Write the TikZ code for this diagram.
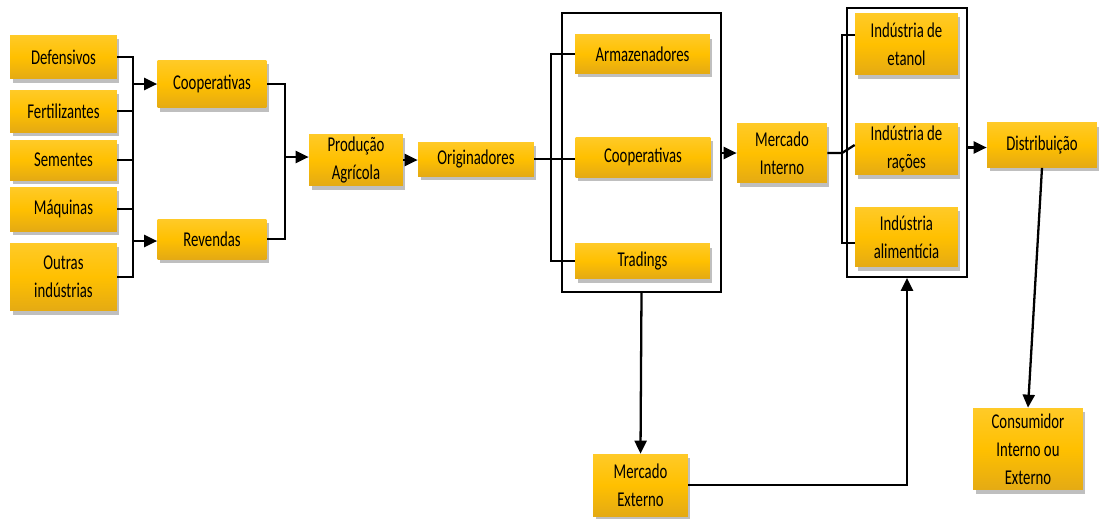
\documentclass[tikz,border=0pt]{standalone}
\usepackage{fontspec}
\setmainfont{Carlito}[FakeStretch=0.7]
\usepackage{tikz}
\usetikzlibrary{arrows.meta, positioning, calc, shadows}
\definecolor{boxtop}{RGB}{255,202,40}
\definecolor{boxmid}{RGB}{255,192,0}
\definecolor{boxbot}{RGB}{228,170,20}

\begin{document}
\begin{tikzpicture}[
    x=0.02cm, y=-0.02cm,
    every node/.style={font=\fontsize{12}{16}\selectfont},
    block/.style={rectangle, top color=boxtop, bottom color=boxbot, middle color=boxmid,
        align=center, inner sep=1pt,
        drop shadow={shadow xshift=0.5mm, shadow yshift=-0.8mm, opacity=0.25, fill=black}},
    frame/.style={rectangle, draw, line width=1pt, inner sep=0pt},
    link/.style={line width=1.3pt},
    arrow/.style={line width=1.3pt, -{Triangle[length=2.6mm, width=2.4mm]}}
]
\useasboundingbox (0,0) rectangle (1100,518);

% insumos
\node[block, minimum width=2.14cm, minimum height=0.88cm] (def) at (63.5,57) {Defensivos};
\node[block, minimum width=2.14cm, minimum height=0.84cm] (fert) at (63.5,111) {Fertilizantes};
\node[block, minimum width=2.14cm, minimum height=0.80cm] (sem) at (63.5,160) {Sementes};
\node[block, minimum width=2.14cm, minimum height=0.88cm] (maq) at (63.5,209) {Máquinas};
\node[block, minimum width=2.14cm, minimum height=1.36cm] (outras) at (63.5,277) {Outras\\indústrias};

\node[block, minimum width=2.18cm, minimum height=0.96cm] (coopA) at (212,84) {Cooperativas};
\node[block, minimum width=2.18cm, minimum height=0.80cm] (rev) at (212,239) {Revendas};

\node[block, minimum width=1.88cm, minimum height=1.04cm] (prod) at (356,160) {Produção\\Agrícola};
\node[block, minimum width=2.32cm, minimum height=0.68cm] (orig) at (476,159) {Originadores};

% originadores
\node[frame, minimum width=3.18cm, minimum height=5.58cm] (grp1) at (641.5,152.5) {};
\node[block, minimum width=2.70cm, minimum height=0.78cm] (arm) at (642.5,54) {Armazenadores};
\node[block, minimum width=2.70cm, minimum height=0.80cm] (coopB) at (643,157) {Cooperativas};
\node[block, minimum width=2.70cm, minimum height=0.70cm] (trad) at (642.5,261) {Tradings};

\node[block, minimum width=1.80cm, minimum height=1.20cm] (mi) at (782,153) {Mercado\\Interno};
\node[block, minimum width=1.90cm, minimum height=1.24cm] (me) at (640.5,485) {Mercado\\Externo};

% industrias
\node[frame, minimum width=2.40cm, minimum height=5.38cm] (grp2) at (907,142.5) {};
\node[block, minimum width=2.06cm, minimum height=1.24cm] (etanol) at (906.5,44) {Indústria de\\etanol};
\node[block, minimum width=2.06cm, minimum height=1.04cm] (racoes) at (906.5,149) {Indústria de\\rações};
\node[block, minimum width=2.06cm, minimum height=1.20cm] (alim) at (906.5,237) {Indústria\\alimentícia};

\node[block, minimum width=2.20cm, minimum height=0.90cm] (dist) at (1042,145) {Distribuição};
\node[block, minimum width=2.20cm, minimum height=1.64cm] (cons) at (1028,449) {Consumidor\\Interno ou\\Externo};

% barramentos
\coordinate (busA) at (133,0);
\coordinate (busB) at (285,0);
\coordinate (busC) at (551,0);
\coordinate (busD) at (842,0);

\draw[link] (def.east) -- (def.east -| busA) -- (outras.east -| busA) -- (outras.east);
\foreach \n in {fert, sem, maq}
    \draw[link] (\n.east) -- (\n.east -| busA);
\draw[arrow] (coopA.west -| busA) -- (coopA.west);
\draw[arrow] ([yshift=-0.04cm]rev.west -| busA) -- ([yshift=-0.04cm]rev.west);

\draw[link] (coopA.east) -- (coopA.east -| busB) -- (rev.east -| busB) -- (rev.east);
\draw[arrow] ([yshift=0.06cm]prod.west -| busB) -- ([yshift=0.06cm]prod.west);
\draw[arrow] (prod.east) -- (prod.east -| orig.west);

\draw[link] (orig.east) -- (orig.east -| coopB.west);
\draw[link] (arm.west) -- (arm.west -| busC) -- (trad.west -| busC) -- (trad.west);
\draw[arrow] (grp1.east |- mi) -- (mi.west);

\draw[link] (mi.east) -- (mi.east -| busD) -- ([yshift=0.08cm]racoes.west);
\draw[link] ([yshift=0.18cm]etanol.west) -- ([yshift=0.18cm]etanol.west -| busD)
    -- ([yshift=-0.12cm]alim.west -| busD) -- ([yshift=-0.12cm]alim.west);
\draw[arrow] ([yshift=-0.1cm]grp2.east) -- ([yshift=-0.1cm]grp2.east -| dist.west);

\draw[arrow] (grp1.south) -- (me.north);
\draw[arrow] (me.east) -| (grp2.south);
\draw[arrow] (dist.south) -- (cons.north);

\end{tikzpicture}
\end{document}
